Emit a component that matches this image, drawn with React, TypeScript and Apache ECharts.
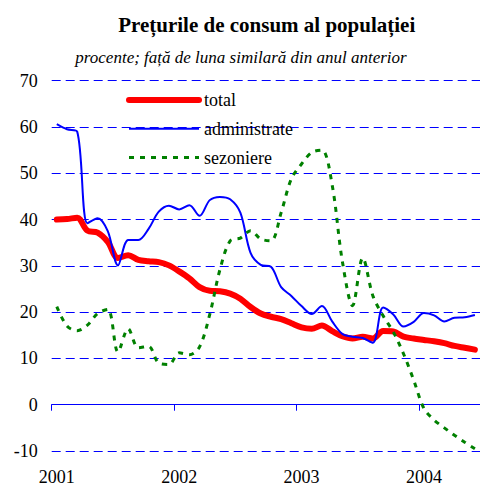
import React, { useEffect, useRef } from 'react';
import * as echarts from 'echarts';

const months = [
  '2001-01', '2001-02', '2001-03', '2001-04', '2001-05', '2001-06', '2001-07', '2001-08', '2001-09', '2001-10', '2001-11', '2001-12',
  '2002-01', '2002-02', '2002-03', '2002-04', '2002-05', '2002-06', '2002-07', '2002-08', '2002-09', '2002-10', '2002-11', '2002-12',
  '2003-01', '2003-02', '2003-03', '2003-04', '2003-05', '2003-06', '2003-07', '2003-08', '2003-09', '2003-10', '2003-11', '2003-12',
  '2004-01', '2004-02', '2004-03', '2004-04', '2004-05', '2004-06',
];

const total = [
  40.0, 40.1, 40.4, 37.6, 37.2, 35.2, 31.7, 32.3, 31.3, 31.0, 30.8, 30.1,
  28.8, 27.3, 25.4, 24.6, 24.5, 24.0, 22.9, 21.1, 19.7, 19.0, 18.5, 17.6,
  16.7, 16.4, 17.1, 15.9, 14.8, 14.3, 14.7, 14.3, 15.9, 15.8, 14.7, 14.3,
  14.0, 13.7, 13.3, 12.7, 12.3, 11.9,
];

const administrate = [
  60.6, 59.5, 59.0, 39.2, 40.3, 37.5, 30.1, 35.6, 35.6, 38.0, 41.7, 43.0,
  42.2, 43.1, 40.8, 44.2, 44.9, 44.4, 41.5, 32.8, 30.2, 29.8, 25.4, 23.5,
  21.3, 19.6, 21.3, 18.0, 15.3, 14.7, 14.4, 13.4, 21.0, 19.5, 16.9, 17.9,
  19.8, 19.3, 18.0, 18.8, 18.9, 19.4,
];

const sezoniere = [
  21.2, 17.0, 16.0, 17.2, 19.7, 20.6, 11.4, 16.4, 12.3, 12.6, 9.0, 8.7,
  11.2, 10.8, 12.5, 19.5, 29.2, 35.4, 36.0, 37.6, 35.8, 35.4, 41.5, 48.8,
  52.0, 54.5, 55.0, 47.5, 31.0, 21.4, 31.7, 23.5, 19.2, 15.7, 11.0, 5.3,
  -0.8, -3.3, -5.0, -6.6, -8.1, -9.5,
];

const seriesNames = ['total', 'administrate', 'sezoniere'];
const titleText = 'Prețurile de consum al populației';
const subtitleText = 'procente; față de luna similară din anul anterior';

export default function App() {
  const ref = useRef<HTMLDivElement>(null);

  useEffect(() => {
    document.body.style.margin = '0';
    const chart = echarts.init(ref.current as HTMLDivElement, null, { renderer: 'svg' });
    const font = 'Liberation Serif';
    const blue = '#0000ff';
    const gridColor = '#0000ff';

    chart.setOption({
      animation: false,
      backgroundColor: '#ffffff',
      textStyle: { fontFamily: font },
      graphic: [
        {
          type: 'text',
          x: 266.7,
          y: 24.5,
          style: {
            text: titleText,
            fill: '#000',
            fontFamily: font,
            fontSize: 21,
            fontWeight: 'bold',
            align: 'center',
            verticalAlign: 'middle',
          },
        },
        {
          type: 'text',
          x: 241,
          y: 57.5,
          style: {
            text: subtitleText,
            fill: '#000',
            fontFamily: font,
            fontSize: 17,
            fontStyle: 'italic',
            align: 'center',
            verticalAlign: 'middle',
          },
        },
      ],
      legend: {
        orient: 'vertical',
        left: 126,
        top: 91,
        padding: 0,
        itemWidth: 70,
        itemHeight: 18,
        itemGap: 10.8,
        selectedMode: false,
        itemStyle: { opacity: 0 },
        textStyle: { fontFamily: font, fontSize: 18, color: '#000', lineHeight: 18 },
        data: [
          { name: seriesNames[0], lineStyle: { width: 6, cap: 'round', color: '#ff0000' } },
          { name: seriesNames[1], lineStyle: { width: 2, color: blue } },
          { name: seriesNames[2], lineStyle: { width: 3, type: [5, 6], color: '#008000' } },
        ],
      },
      grid: {
        left: 51.7,
        right: -7.2,
        top: 80.7,
        bottom: 31.7,
        containLabel: false,
      },
      xAxis: [
        {
          type: 'category',
          data: months,
          boundaryGap: true,
          position: 'bottom',
          axisLine: { show: true, onZero: true, lineStyle: { color: gridColor, width: 1 } },
          axisTick: { show: true, interval: 11, length: 6, lineStyle: { color: gridColor, width: 1 } },
          axisLabel: { show: false },
          splitLine: { show: false },
        },
        {
          type: 'category',
          data: months,
          boundaryGap: true,
          position: 'bottom',
          axisLine: { show: false, onZero: false },
          axisTick: { show: false },
          axisLabel: {
            show: true,
            interval: 11,
            margin: 17,
            fontFamily: font,
            fontSize: 18,
            color: '#000',
            formatter: (v: string) => v.slice(0, 4),
          },
          splitLine: { show: false },
        },
      ],
      yAxis: {
        type: 'value',
        min: -10,
        max: 70,
        interval: 10,
        axisLine: { show: false },
        axisTick: { show: false },
        axisLabel: { fontFamily: font, fontSize: 18, color: '#000', margin: 14 },
        splitLine: { show: true, lineStyle: { color: gridColor, width: 1, type: [9, 5] } },
      },
      series: [
        {
          name: seriesNames[0],
          type: 'line',
          data: total,
          smooth: 0.33,
          symbol: 'none',
          lineStyle: { color: '#ff0000', width: 6, cap: 'round', join: 'round' },
          itemStyle: { color: '#ff0000' },
        },
        {
          name: seriesNames[1],
          type: 'line',
          data: administrate,
          smooth: 0.33,
          symbol: 'none',
          lineStyle: { color: blue, width: 2 },
          itemStyle: { color: blue },
        },
        {
          name: seriesNames[2],
          type: 'line',
          data: sezoniere,
          smooth: 0.33,
          symbol: 'none',
          lineStyle: { color: '#008000', width: 3, type: [5, 6] },
          itemStyle: { color: '#008000' },
        },
      ],
    });

    return () => chart.dispose();
  }, []);

  return <div ref={ref} style={{ width: 480, height: 486 }} />;
}
